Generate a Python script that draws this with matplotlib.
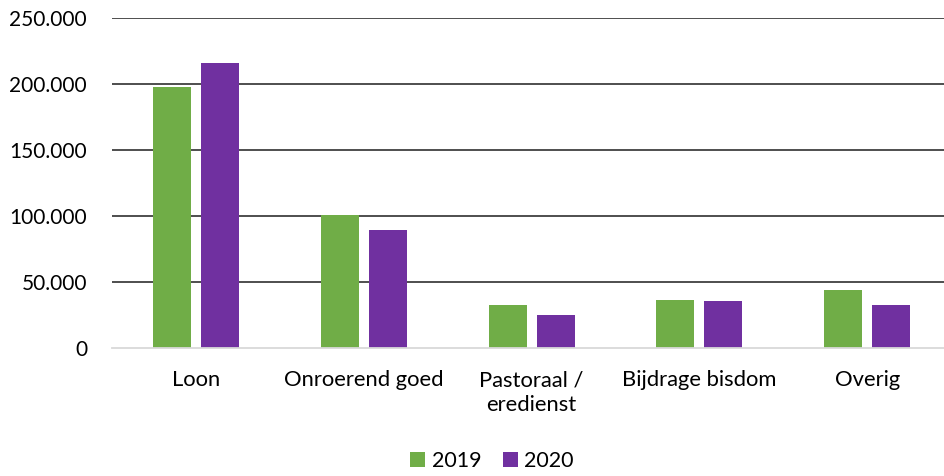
import numpy as np
import matplotlib.pyplot as plt
from matplotlib.ticker import FuncFormatter

# Kosten per categorie
categories = ["Loon", "Onroerend goed", "Pastoraal /\neredienst", "Bijdrage bisdom", "Overig"]
values_2019 = [197700, 100300, 32300, 36600, 44200]
values_2020 = [215400, 89300, 24700, 35900, 32800]
yticks = [0, 50000, 100000, 150000, 200000, 250000]

green = "#70AD47"
purple = "#7030A0"

plt.rcParams["font.family"] = ["Lato", "DejaVu Sans"]

fig = plt.figure(figsize=(9.44, 4.76), dpi=100)
ax = fig.add_axes([112 / 944, 1 - 348 / 476, 1 - 112 / 944, (348 - 17.5) / 476])

x = np.arange(len(categories))
w = 0.2265
off = 0.143
ax.bar(x - off, values_2019, w, color=green, label="2019", zorder=3)
ax.bar(x + off, values_2020, w, color=purple, label="2020", zorder=3)

ax.set_xlim(-0.5, 4.458)
ax.set_ylim(0, 250000)
ax.set_yticks(yticks)
ax.yaxis.set_major_formatter(FuncFormatter(lambda v, p: f"{int(v):,}".replace(",", ".")))
ax.grid(axis="y", color="#404040", linewidth=1.3, zorder=0)
ax.set_xticks(x)
ax.set_xticklabels(categories, fontsize=15.8, linespacing=1.3)
ax.tick_params(axis="y", length=0, labelsize=15, colors="black", pad=18)
ax.tick_params(axis="x", length=0, colors="black", pad=16)

for s in ["top", "right", "left"]:
    ax.spines[s].set_visible(False)
ax.spines["bottom"].set_color("#d9d9d9")
ax.spines["bottom"].set_linewidth(1.3)
ax.spines["bottom"].set_zorder(4)

# y=0 gridline lighter
ax.get_ygridlines()[0].set_visible(False)

fig.legend(loc="lower center", bbox_to_anchor=(492 / 944, -0.03), ncol=2, frameon=False,
           fontsize=15.5, handlelength=0.7, handleheight=0.7, handletextpad=0.3,
           columnspacing=1.0)

fig.savefig("out.png", dpi=100)
